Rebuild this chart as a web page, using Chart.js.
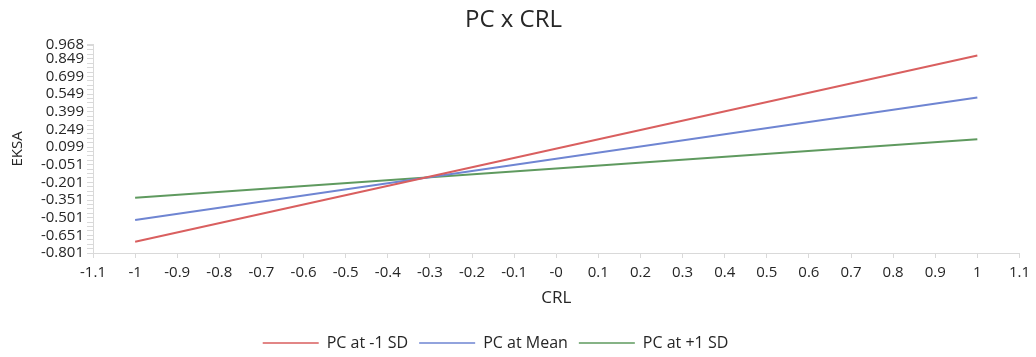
<!DOCTYPE html>
<html>
<head>
<meta charset="utf-8">
<script src="https://cdn.jsdelivr.net/npm/chart.js@4"></script>
<style>
  html, body { margin: 0; padding: 0; background: #fff; }
  #wrap { width: 1036px; height: 357px; }
</style>
</head>
<body>
<div id="wrap"><canvas id="chart"></canvas></div>
<script>
// CRL values where each line is evaluated
const crlValues = [-1, 1];

// EKSA for each PC level
const pcLow = [-0.705, 0.877];
const pcMean = [-0.520, 0.520];
const pcHigh = [-0.331, 0.166];

const seriesNames = ['PC at -1 SD', 'PC at Mean', 'PC at +1 SD'];

// axis ticks as shown
const xTicks = [-1.1, -1, -0.9, -0.8, -0.7, -0.6, -0.5, -0.4, -0.3, -0.2, -0.1, 0,
  0.1, 0.2, 0.3, 0.4, 0.5, 0.6, 0.7, 0.8, 0.9, 1, 1.1];
const xTickLabels = ['-1.1', '-1', '-0.9', '-0.8', '-0.7', '-0.6', '-0.5', '-0.4', '-0.3', '-0.2', '-0.1', '-0',
  '0.1', '0.2', '0.3', '0.4', '0.5', '0.6', '0.7', '0.8', '0.9', '1', '1.1'];
const yTicks = [-0.801, -0.651, -0.501, -0.351, -0.201, -0.051, 0.099, 0.249, 0.399, 0.549, 0.699, 0.849, 0.968];

const font = '"Open Sans", "Noto Sans", sans-serif';
const axisGrey = '#d9d9d9';
const textCol = '#262626';

function toPoints(vals) {
  return crlValues.map((x, i) => ({ x: x, y: vals[i] }));
}

// minor ticks between the labelled y ticks
function yWithMinor() {
  const out = [];
  for (let i = 0; i < yTicks.length; i++) {
    out.push({ value: yTicks[i], major: true });
    if (i < yTicks.length - 1) {
      const a = yTicks[i], b = yTicks[i + 1];
      const step = 0.0375;
      for (let v = a + step; v < b - 0.005; v += step) out.push({ value: v });
    }
  }
  return out;
}

// nudge the legend a little left and down, like the original
const legendNudge = {
  id: 'legendNudge',
  afterLayout(chart) {
    const lg = chart.legend;
    lg.left -= 18; lg.right -= 18;
    lg.top += 4; lg.bottom += 4;
  }
};

const colors = ['#d95f5f', '#6f85d2', '#5f9a5f'];

new Chart(document.getElementById('chart'), {
  type: 'line',
  data: {
    datasets: [pcLow, pcMean, pcHigh].map((vals, i) => ({
      label: seriesNames[i],
      data: toPoints(vals),
      borderColor: colors[i],
      backgroundColor: colors[i],
      borderWidth: 2,
      pointRadius: 0,
      fill: false,
      tension: 0
    }))
  },
  options: {
    responsive: true,
    maintainAspectRatio: false,
    animation: false,
    layout: { padding: { left: 0, right: 9, top: 0, bottom: 0 } },
    plugins: {
      title: {
        display: true,
        text: 'PC x CRL',
        color: textCol,
        font: { family: font, size: 24, weight: 'normal' },
        padding: { top: 6, bottom: 10 }
      },
      legend: {
        position: 'bottom',
        labels: {
          color: textCol,
          font: { family: font, size: 16 },
          boxWidth: 56,
          boxHeight: 0,
          padding: 11,
          generateLabels: function (chart) {
            const items = Chart.defaults.plugins.legend.labels.generateLabels(chart);
            items.forEach(it => { it.lineWidth = 1.5; });
            return items;
          }
        }
      },
      tooltip: { enabled: false }
    },
    scales: {
      x: {
        type: 'linear',
        min: -1.1,
        max: 1.1,
        afterBuildTicks: s => { s.ticks = xTicks.map(v => ({ value: v })); },
        afterFit: s => { s.height = 67; },
        ticks: {
          autoSkip: false,
          maxRotation: 0,
          color: textCol,
          font: { family: font, size: 15 },
          padding: 6,
          callback: (v, i) => xTickLabels[i]
        },
        grid: { drawOnChartArea: false, color: axisGrey, tickLength: 5 },
        border: { color: axisGrey },
        title: {
          display: true,
          text: 'CRL',
          color: textCol,
          font: { family: font, size: 17 },
          padding: { top: 4, bottom: 12 }
        }
      },
      y: {
        type: 'linear',
        min: -0.801,
        max: 0.968,
        afterBuildTicks: s => { s.ticks = yWithMinor(); },
        afterFit: s => { s.width = 93; },
        ticks: {
          autoSkip: false,
          color: textCol,
          font: { family: font, size: 15 },
          padding: 3,
          callback: function (v, i, ticks) {
            return ticks[i].major ? yTicks.find(t => Math.abs(t - v) < 1e-6).toFixed(3) : '';
          }
        },
        grid: { drawOnChartArea: false, color: axisGrey, tickLength: 6 },
        border: { color: axisGrey },
        title: {
          display: true,
          text: 'EKSA',
          color: textCol,
          font: { family: font, size: 15 },
          padding: { top: 9, bottom: 4 }
        }
      }
    }
  },
  plugins: [legendNudge]
});
</script>
</body>
</html>
